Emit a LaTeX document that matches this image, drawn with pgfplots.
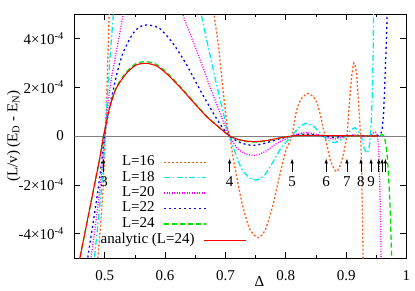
\documentclass[border=0pt]{standalone}
\usepackage{fontspec}
\setmainfont{Liberation Serif}
\usepackage{pgfplots}
\pgfplotsset{compat=1.18}
\usetikzlibrary{arrows.meta}
\definecolor{cOrange}{RGB}{255,95,30}
\definecolor{cCyan}{RGB}{0,235,235}
\definecolor{cMag}{RGB}{255,0,255}
\definecolor{cBlue}{RGB}{0,0,255}
\definecolor{cGreen}{RGB}{0,225,0}
\definecolor{cRed}{RGB}{255,0,0}
\begin{document}
\begin{tikzpicture}[font=\fontsize{15}{18}\selectfont]
\pgfplotsset{
  common/.style={scale only axis, width=332pt, height=244pt,
    xmin=0.45, xmax=1, ymin=-5, ymax=5,
    legend cell align=right,
    legend image code/.code={\draw[##1, line width=1.4pt] (0pt,0pt) -- (42pt,0pt);},
  },
}
\begin{axis}[common, name=main,
  xtick={0.5,0.6,0.7,0.8,0.9,1},
  xticklabels={0.5,0.6,0.7,0.8,0.9,1},
  minor xtick={0.55,0.65,0.75,0.85,0.95},
  ytick={-4,-2,0,2,4},
  yticklabels={-4×10\textsuperscript{-4},-2×10\textsuperscript{-4},0,2×10\textsuperscript{-4},4×10\textsuperscript{-4}},
  tick align=inside, xtick pos=both, ytick pos=both,
  major tick length=6pt, minor tick length=3pt,
  tick style={black, line width=0.6pt},
  axis line style={line width=0.8pt},
  xticklabel style={inner sep=0pt, yshift=-12pt},
  yticklabel style={inner sep=0pt, xshift=-10.5pt},
  xlabel={Δ},
  xlabel style={at={(axis description cs:0.557,0)}, anchor=north, inner sep=0pt, yshift=-18.5pt},
  ylabel={(L/v) (E\textsubscript{D} - E\textsubscript{N})},
  ylabel style={at={(axis description cs:-0.162,0.5)}, anchor=south, inner sep=0pt},
  legend style={draw=none, fill=none, at={(axis description cs:0.400,0.42)}, anchor=north east,
    inner sep=0pt, row sep=2.4pt, column sep=9pt,
    nodes={inner sep=0pt, text height=10pt, text depth=3pt}},
  legend plot pos=right,
]
\addplot[gray, line width=0.6pt, forget plot] coordinates {(0.45,0) (1,0)};

% L=16
\addplot[color=cOrange, line width=1.3pt, dash pattern=on 2pt off 2pt, smooth, tension=0.4] coordinates {
(0.486,-6.0) (0.4887,-5.0) (0.4932,-3.63) (0.497,-2.26) (0.4998,-0.89) (0.501,0)
(0.504,2.2) (0.507,4.6) (0.510,7.0) (0.520,11.5) (0.540,17) (0.570,21) (0.600,20)
(0.630,15) (0.655,10.5) (0.670,7.3) (0.681,5.0) (0.688,3.8) (0.696,1.9) (0.703,0.4)
(0.707,0) (0.715,-1.2) (0.728,-2.8) (0.740,-3.8) (0.754,-4.17) (0.766,-3.85)
(0.778,-2.9) (0.791,-1.5) (0.800,-0.6) (0.810,0) (0.8175,1.0) (0.825,1.5) (0.837,1.75)
(0.849,1.5) (0.856,1.0) (0.865,0) (0.874,-1.0) (0.884,-1.46) (0.893,-1.0) (0.901,0)
(0.905,1.2) (0.909,2.4) (0.913,3.0) (0.917,2.6) (0.9205,1.4) (0.924,0) (0.926,-1.8)
(0.9275,-4.0) (0.9285,-5.5) (0.930,-7)};
\addlegendentry{L=16}

% L=18
\addplot[color=cCyan, line width=1.3pt, dash pattern=on 6pt off 2.5pt on 1.5pt off 2.5pt, smooth, tension=0.4] coordinates {
(0.480,-6.5) (0.4832,-5) (0.4887,-3.63) (0.4942,-2.26) (0.4985,-0.89) (0.5005,0)
(0.505,1.8) (0.510,3.6) (0.5145,5.0) (0.520,6.6) (0.535,9.5) (0.560,12) (0.590,12.3)
(0.620,10.5) (0.645,7.6) (0.660,5.0) (0.672,3.6) (0.6825,2.43) (0.694,1.2) (0.704,0.2)
(0.707,0) (0.715,-0.6) (0.727,-1.35) (0.740,-1.72) (0.752,-1.8) (0.765,-1.6)
(0.778,-1.1) (0.792,-0.5) (0.810,0) (0.822,0.35) (0.834,0.52) (0.846,0.4) (0.856,0.15)
(0.862,0) (0.872,-0.2) (0.8815,-0.27) (0.891,-0.15) (0.900,0) (0.908,0.25) (0.9147,0.34)
(0.920,0.2) (0.925,0) (0.930,-0.5) (0.935,-0.7) (0.939,-0.3) (0.9425,1.1) (0.9445,3.0)
(0.9455,5) (0.947,7.5)};
\addlegendentry{L=18}

% L=20
\addplot[color=cMag, line width=1.3pt, dash pattern=on 1pt off 1.5pt, smooth, tension=0.4] coordinates {
(0.474,-6.3) (0.4775,-5) (0.4849,-3.63) (0.4915,-2.26) (0.497,-0.89) (0.4995,0)
(0.505,1.2) (0.510,2.2) (0.520,3.55) (0.531,5.0) (0.545,6.6) (0.560,7.5) (0.575,7.8)
(0.590,7.5) (0.605,6.8) (0.620,5.7) (0.630,4.96) (0.6327,4.75) (0.652,3.52) (0.666,2.6)
(0.676,1.9) (0.688,1.15) (0.698,0.5) (0.707,0) (0.718,-0.45) (0.730,-0.7) (0.748,-0.8)
(0.765,-0.65) (0.785,-0.3) (0.810,0) (0.822,0.1) (0.834,0.14) (0.848,0.08) (0.862,0)
(0.872,-0.1) (0.880,-0.13) (0.890,-0.07) (0.900,0) (0.915,0.04) (0.928,-0.03) (0.940,0.0)
(0.945,0.12) (0.948,0.17) (0.951,0.08) (0.9535,-0.4) (0.955,-1.3) (0.9565,-2.8)
(0.958,-5) (0.959,-6.5)};
\addlegendentry{L=20}

% L=22
\addplot[color=cBlue, line width=1.3pt, dash pattern=on 2pt off 3pt, smooth, tension=0.4] coordinates {
(0.468,-6) (0.472,-5) (0.4804,-3.63) (0.4887,-2.26) (0.4958,-0.89) (0.4995,0)
(0.508,1.15) (0.519,2.43) (0.530,3.39) (0.547,4.21) (0.560,4.5) (0.572,4.55)
(0.591,4.41) (0.613,3.80) (0.635,2.95) (0.658,1.89) (0.680,0.93) (0.695,0.35) (0.707,0)
(0.720,-0.22) (0.735,-0.35) (0.748,-0.38) (0.765,-0.30) (0.785,-0.15) (0.810,0)
(0.834,0.08) (0.862,0) (0.880,-0.05) (0.900,0) (0.915,0.03) (0.930,0) (0.945,-0.01)
(0.955,0.03) (0.959,0.2) (0.962,0.9) (0.9645,2.45) (0.9665,3.8) (0.968,5) (0.970,6.8)};
\addlegendentry{L=22}

% L=24
\addplot[color=cGreen, line width=1.3pt, dash pattern=on 5pt off 3pt, smooth, tension=0.4] coordinates {
(0.455,-5.6) (0.4589,-5.0) (0.470,-3.63) (0.481,-2.26) (0.492,-0.89) (0.498,0)
(0.503,0.57) (0.508,1.17) (0.519,1.98) (0.536,2.62) (0.552,2.97) (0.569,3.05)
(0.586,2.93) (0.602,2.62) (0.624,2.06) (0.646,1.44) (0.669,0.81) (0.691,0.33) (0.707,0)
(0.720,-0.14) (0.735,-0.22) (0.751,-0.25) (0.770,-0.19) (0.790,-0.08) (0.810,0)
(0.830,0.03) (0.860,0.02) (0.900,0.01) (0.940,0.0) (0.955,0.02) (0.960,0.05) (0.963,0.0)
(0.966,-0.4) (0.969,-1.1) (0.972,-2.45) (0.974,-3.8) (0.9755,-5) (0.977,-6)};
\addlegendentry{L=24}

% arrows
\tikzset{arr/.style={-{Latex[length=5pt,width=3.5pt]}, line width=0.8pt, black}}
\draw[arr] (axis cs:0.498,-1.49) -- (axis cs:0.498,-0.92);
\node at (axis cs:0.499,-1.87) {3};
\draw[arr] (axis cs:0.707,-1.49) -- (axis cs:0.707,-0.92);
\node at (axis cs:0.707,-1.87) {4};
\draw[arr] (axis cs:0.8105,-1.49) -- (axis cs:0.8105,-0.92);
\node at (axis cs:0.8105,-1.87) {5};
\draw[arr] (axis cs:0.867,-1.49) -- (axis cs:0.867,-0.92);
\node at (axis cs:0.867,-1.87) {6};
\draw[arr] (axis cs:0.9013,-1.49) -- (axis cs:0.9013,-0.92);
\node at (axis cs:0.9013,-1.87) {7};
\draw[arr] (axis cs:0.9246,-1.49) -- (axis cs:0.9246,-0.92);
\node at (axis cs:0.9246,-1.87) {8};
\draw[arr] (axis cs:0.9413,-1.49) -- (axis cs:0.9413,-0.92);
\node at (axis cs:0.9413,-1.87) {9};
\draw[arr] (axis cs:0.954,-1.49) -- (axis cs:0.954,-0.92);
\draw[arr] (axis cs:0.9596,-1.49) -- (axis cs:0.9596,-0.92);
\draw[arr] (axis cs:0.965,-1.49) -- (axis cs:0.965,-0.92);
\end{axis}

\begin{axis}[common, hide axis,
  legend style={draw=none, fill=none, at={(axis description cs:0.52,0.1004)}, anchor=north east,
    inner sep=0pt, column sep=9pt,
    nodes={inner sep=0pt, text height=10pt, text depth=3pt}},
  legend plot pos=right,
]
\addplot[color=cRed, line width=1.1pt, smooth, tension=0.4] coordinates {
(0.455,-5.5) (0.4589,-5.0) (0.470,-3.63) (0.481,-2.26) (0.492,-0.89) (0.498,0)
(0.503,0.55) (0.508,1.15) (0.519,1.95) (0.536,2.57) (0.552,2.91) (0.569,2.98)
(0.586,2.87) (0.602,2.57) (0.624,2.02) (0.646,1.41) (0.669,0.79) (0.691,0.32) (0.707,0)
(0.720,-0.13) (0.735,-0.21) (0.751,-0.23) (0.770,-0.18) (0.790,-0.08) (0.810,0)
(0.830,0.03) (0.860,0.02) (0.900,0.01) (0.952,0.0)};
\addlegendentry{analytic (L=24)}
\end{axis}
\path (main.south west) ++(-74.5pt,-32pt) rectangle ++(415pt,290pt);
\end{tikzpicture}
\end{document}
